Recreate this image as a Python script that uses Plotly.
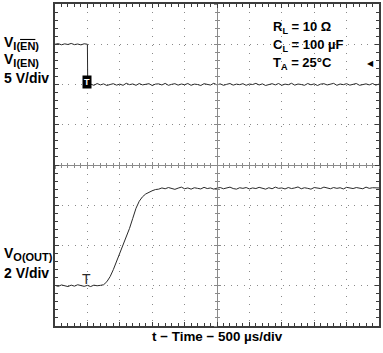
import plotly.graph_objects as go

# ---------------- data ----------------
en_time_us = [0, 50, 100, 150, 200, 250, 300, 350, 400, 450, 500, 505,
              550, 600, 650, 700, 750, 800, 850, 900, 950, 1000,
              1050, 1100, 1150, 1200, 1250, 1300, 1350, 1400, 1450, 1500,
              1550, 1600, 1650, 1700, 1750, 1800, 1850, 1900, 1950, 2000,
              2050, 2100, 2150, 2200, 2250, 2300, 2350, 2400, 2450, 2500,
              2550, 2600, 2650, 2700, 2750, 2800, 2850, 2900, 2950, 3000,
              3050, 3100, 3150, 3200, 3250, 3300, 3350, 3400, 3450, 3500,
              3550, 3600, 3650, 3700, 3750, 3800, 3850, 3900, 3950, 4000,
              4050, 4100, 4150, 4200, 4250, 4300, 4350, 4400, 4450, 4500,
              4550, 4600, 4650, 4700, 4750, 4800, 4850, 4900, 4950, 5000]
en_volts = [5.0, 5.08, 4.93, 5.05, 4.97, 5.1, 4.95, 5.03, 4.92, 5.06, 5.0, 0.0,
            0.05, -0.1, 0.12, -0.05, 0.08, -0.12, 0.0, 0.1, -0.08, 0.05,
            -0.1, 0.15, -0.02, 0.07, -0.1, 0.12, -0.05, 0.0, 0.1, -0.12,
            0.05, 0.08, -0.06, 0.14, -0.1, 0.02, 0.1, -0.08, 0.06, -0.03,
            0.12, -0.1, 0.05, 0.0, -0.12, 0.1, 0.04, -0.07, 0.15, -0.05,
            0.08, -0.1, 0.02, 0.12, -0.08, 0.05, -0.02, 0.1, -0.1, 0.06,
            0.0, 0.14, -0.06, 0.08, -0.12, 0.03, 0.1, -0.05, 0.12, -0.1,
            0.05, -0.03, 0.15, -0.08, 0.06, 0.0, -0.1, 0.12, -0.04, 0.08,
            -0.12, 0.05, 0.1, -0.06, 0.02, 0.14, -0.1, 0.06, -0.02, 0.1,
            -0.08, 0.04, 0.12, -0.1, 0.0, 0.08, -0.05, 0.12, -0.08, 0.05,
            0.0]

out_time_us = [0, 50, 100, 150, 200, 250, 300, 350, 400, 450, 500,
               550, 600, 650, 700, 750, 800, 850, 900, 950, 1000,
               1050, 1100, 1150, 1200, 1250, 1300, 1350, 1400, 1450, 1500,
               1550, 1600, 1650, 1700, 1750, 1800, 1850, 1900, 1950, 2000,
               2050, 2100, 2150, 2200, 2250, 2300, 2350, 2400, 2450, 2500,
               2550, 2600, 2650, 2700, 2750, 2800, 2850, 2900, 2950, 3000,
               3050, 3100, 3150, 3200, 3250, 3300, 3350, 3400, 3450, 3500,
               3550, 3600, 3650, 3700, 3750, 3800, 3850, 3900, 3950, 4000,
               4050, 4100, 4150, 4200, 4250, 4300, 4350, 4400, 4450, 4500,
               4550, 4600, 4650, 4700, 4750, 4800, 4850, 4900, 4950, 5000]
out_volts = [0.02, -0.03, 0.04, 0.0, -0.04, 0.03, -0.02, 0.05, 0.0, -0.03,
             0.02, -0.04, 0.03, 0.0, 0.02,
             0.05, 0.2, 0.45, 0.8, 1.2, 1.6, 2.0, 2.4, 2.85, 3.35, 3.85,
             4.2, 4.42, 4.56, 4.66, 4.72, 4.78,
             4.8, 4.86, 4.82, 4.88, 4.83, 4.79, 4.85, 4.9, 4.82, 4.86,
             4.8, 4.87, 4.84, 4.81, 4.89, 4.83, 4.86, 4.8, 4.85, 4.88,
             4.82, 4.86, 4.9, 4.83, 4.8, 4.87, 4.84, 4.88, 4.81, 4.86,
             4.83, 4.89, 4.85, 4.8, 4.87, 4.82, 4.9, 4.84, 4.86, 4.81,
             4.88, 4.83, 4.86, 4.91, 4.82, 4.87, 4.84, 4.8, 4.88, 4.85,
             4.83, 4.9, 4.86, 4.82, 4.88, 4.84, 4.87, 4.81, 4.89, 4.85,
             4.83, 4.88, 4.86, 4.82, 4.9, 4.84, 4.87, 4.85, 4.86]

x_label = "t − Time − 500 µs/div"
SUB = '<sub><span style="font-size:11px">{}</span></sub>'
ch1_labels = ["V" + SUB.format('I(<span style="text-decoration:overline">EN</span>)'),
              "V" + SUB.format("I(EN)"), "5 V/div"]
ch2_labels = ["V" + SUB.format("O(OUT)"), "2 V/div"]
cond_labels = ["R<sub>L</sub> = 10 Ω", "C<sub>L</sub> = 100 µF", "T<sub>A</sub> = 25°C"]

# ---------------- layout helpers ----------------
W, H = 383, 353
ML, MR, MT, MB = 55, 2, 2, 27
PW, PH = W - ML - MR, H - MT - MB


def px(x):
    return (x - ML) / PW


def py(y):
    return 1 - (y - MT) / PH


TRACE = "#2a2a2a"
BORDER = "#3c3c3c"
GRID = "#8a8a8a"
FONT = "Liberation Sans, Arial, sans-serif"

fig = go.Figure()
fig.add_trace(go.Scatter(x=en_time_us, y=en_volts, mode="lines",
                         line=dict(color=TRACE, width=1), xaxis="x", yaxis="y",
                         hoverinfo="skip", showlegend=False))
fig.add_trace(go.Scatter(x=out_time_us, y=out_volts, mode="lines",
                         line=dict(color=TRACE, width=1), xaxis="x", yaxis="y2",
                         hoverinfo="skip", showlegend=False))
# dummy traces so the centre-line axes get drawn
for xa, ya in [("x3", "y"), ("x4", "y"), ("x", "y3"), ("x", "y4")]:
    fig.add_trace(go.Scatter(x=[None], y=[None], xaxis=xa, yaxis=ya,
                             showlegend=False, hoverinfo="skip"))

common = dict(showticklabels=False, zeroline=False, fixedrange=True)
X_RANGE = [0, 5000]
Y1_RANGE = [-30, 10]   # channel 1: 5 V/div, ground at 6 div
Y2_RANGE = [-2, 14]    # channel 2: 2 V/div, ground at 1 div

fig.update_layout(
    width=W, height=H, margin=dict(l=ML, r=MR, t=MT, b=MB),
    paper_bgcolor="white", plot_bgcolor="white", showlegend=False,
    xaxis=dict(range=X_RANGE, dtick=500, tick0=0, showgrid=True,
               gridcolor=GRID, gridwidth=1, griddash="1px,7.1px",
               showline=True, linecolor=BORDER, linewidth=2, mirror="ticks",
               ticks="inside", ticklen=4, tickcolor=BORDER, tickwidth=1,
               minor=dict(dtick=100, ticks="inside", ticklen=3,
                          tickcolor=BORDER, showgrid=False),
               **common),
    yaxis=dict(range=Y1_RANGE, dtick=5, tick0=0, showgrid=True,
               gridcolor=GRID, gridwidth=1, griddash="1px,5.5px",
               showline=True, linecolor=BORDER, linewidth=2, mirror="ticks",
               ticks="inside", ticklen=4, tickcolor=BORDER, tickwidth=1,
               minor=dict(dtick=1, ticks="inside", ticklen=3,
                          tickcolor=BORDER, showgrid=False),
               **common),
    yaxis2=dict(range=Y2_RANGE, overlaying="y", showgrid=False, showline=False,
                ticks="", **common),
    xaxis3=dict(range=X_RANGE, overlaying="x", anchor="free", position=0.5,
                showgrid=False, showline=True, linecolor=GRID, linewidth=1,
                dtick=500, tick0=0, ticks="inside", ticklen=3, tickcolor=GRID,
                minor=dict(dtick=100, ticks="inside", ticklen=2, tickcolor=GRID),
                **common),
    xaxis4=dict(range=X_RANGE, overlaying="x", anchor="free", position=0.5,
                showgrid=False, showline=False,
                dtick=500, tick0=0, ticks="outside", ticklen=3, tickcolor=GRID,
                minor=dict(dtick=100, ticks="outside", ticklen=2, tickcolor=GRID),
                **common),
    yaxis3=dict(range=Y1_RANGE, overlaying="y", anchor="free", position=0.5,
                showgrid=False, showline=True, linecolor=GRID, linewidth=1,
                dtick=5, tick0=0, ticks="inside", ticklen=3, tickcolor=GRID,
                minor=dict(dtick=1, ticks="inside", ticklen=2, tickcolor=GRID),
                **common),
    yaxis4=dict(range=Y1_RANGE, overlaying="y", anchor="free", position=0.5,
                showgrid=False, showline=False,
                dtick=5, tick0=0, ticks="outside", ticklen=3, tickcolor=GRID,
                minor=dict(dtick=1, ticks="outside", ticklen=2, tickcolor=GRID),
                **common),
)

ann = []
lab_font = dict(family=FONT, size=14, color="black")
for text, yc in zip(ch1_labels, [41, 58, 76]):
    ann.append(dict(text="<b>" + text + "</b>", xref="paper", yref="paper",
                    x=px(2), y=py(yc), xanchor="left", yanchor="middle",
                    showarrow=False, font=lab_font))
for text, yc in zip(ch2_labels, [254, 273]):
    ann.append(dict(text="<b>" + text + "</b>", xref="paper", yref="paper",
                    x=px(2), y=py(yc), xanchor="left", yanchor="middle",
                    showarrow=False, font=lab_font))
for text, yc in zip(cond_labels, [26, 44, 62]):
    ann.append(dict(text="<b>" + text + "</b>", xref="paper", yref="paper",
                    x=px(272), y=py(yc), xanchor="left", yanchor="middle",
                    showarrow=False, font=dict(family=FONT, size=13, color="black")))
ann.append(dict(text="<b>" + x_label + "</b>", xref="paper", yref="paper",
                x=0.5, y=py(337), xanchor="center", yanchor="middle",
                showarrow=False, font=dict(family=FONT, size=13.4, color="black")))
# channel 1 ground marker
ann.append(dict(text="<b>T</b>", xref="x", yref="y", x=500, y=0,
                xanchor="center", yanchor="middle", yshift=3, showarrow=False,
                bgcolor="black", borderpad=1,
                font=dict(family=FONT, size=9, color="white")))
# channel 2 ground marker
ann.append(dict(text="T", xref="x", yref="y2", x=490, y=0,
                xanchor="center", yanchor="bottom", yshift=-3, showarrow=False,
                font=dict(family=FONT, size=14, color=TRACE)))
# trigger level arrow
ann.append(dict(text="◀", xref="paper", yref="y", x=px(378), y=2.6,
                xanchor="right", yanchor="middle", showarrow=False,
                font=dict(family="DejaVu Sans", size=8, color="black")))
fig.update_layout(annotations=ann)

fig.write_html("out.html")
